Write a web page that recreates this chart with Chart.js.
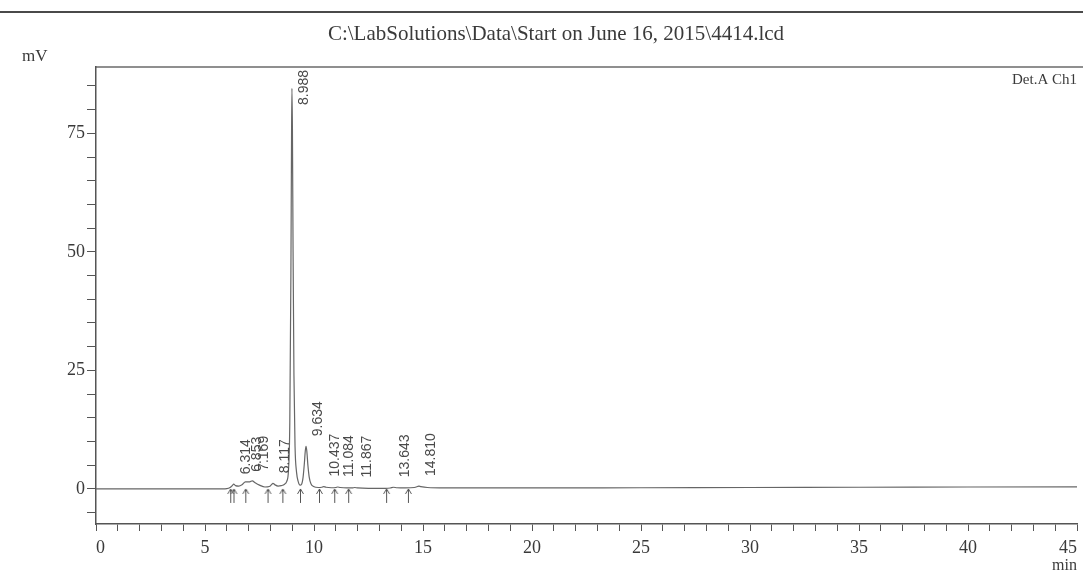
<!DOCTYPE html>
<html>
<head>
<meta charset="utf-8">
<script src="https://cdn.jsdelivr.net/npm/chart.js@4.4.1/dist/chart.umd.min.js"></script>
<style>
  html, body { margin: 0; padding: 0; background: #ffffff; }
  #wrap { position: relative; width: 1083px; height: 575px; }
</style>
</head>
<body>
<div id="wrap"><canvas id="c" width="1083" height="575"></canvas></div>
<script>
// ---- data ----
const chartTitle = 'C:\\LabSolutions\\Data\\Start on June 16, 2015\\4414.lcd';
const yUnit = 'mV';
const xUnit = 'min';
const detectorLabel = 'Det.A Ch1';

// trace: retention time (min) and signal (mV)
const times  = [0, 3, 5.8, 6.0, 6.15, 6.25, 6.314, 6.4, 6.55, 6.7, 6.853, 6.95, 7.05, 7.169, 7.3, 7.5, 7.75, 7.95, 8.05, 8.117, 8.2, 8.35, 8.5, 8.65, 8.75, 8.83, 8.89, 8.94, 8.97, 8.988, 9.01, 9.04, 9.08, 9.13, 9.2, 9.28, 9.36, 9.43, 9.5, 9.56, 9.6, 9.634, 9.67, 9.72, 9.78, 9.86, 9.98, 10.2, 10.35, 10.437, 10.55, 10.8, 11.0, 11.084, 11.2, 11.5, 11.75, 11.867, 12.0, 12.5, 13.3, 13.5, 13.643, 13.8, 14.2, 14.6, 14.75, 14.81, 14.9, 15.2, 16, 20, 25, 30, 35, 40, 45];
const signal = [0, 0, 0, 0.05, 0.3, 0.7, 1.0, 0.7, 0.6, 0.9, 1.5, 1.5, 1.5, 1.7, 1.3, 0.8, 0.4, 0.5, 0.9, 1.2, 0.9, 0.6, 0.7, 1.0, 1.6, 4.0, 14, 45, 74, 84.5, 76, 50, 24, 9, 3.5, 1.5, 0.8, 1.0, 2.5, 5.5, 8.0, 9.0, 8.0, 5.0, 2.5, 1.1, 0.5, 0.3, 0.35, 0.5, 0.35, 0.25, 0.3, 0.4, 0.3, 0.2, 0.2, 0.3, 0.2, 0.1, 0.1, 0.2, 0.35, 0.25, 0.2, 0.3, 0.5, 0.6, 0.5, 0.3, 0.2, 0.2, 0.25, 0.3, 0.35, 0.4, 0.45];

// detected peaks: retention time labels and their apex heights (mV)
const peakLabels  = ['6.314', '6.853', '7.169', '8.117', '8.988', '9.634', '10.437', '11.084', '11.867', '13.643', '14.810'];
const peakHeights = [1.0, 1.5, 1.7, 1.2, 84.5, 9.0, 0.5, 0.4, 0.3, 0.35, 0.6];

// integration markers along the baseline (min)
const markerTimes = [6.18, 6.33, 6.87, 7.89, 8.57, 9.38, 10.25, 10.95, 11.59, 13.33, 14.33];

// axis ticks
const xMajorTicks = [0, 5, 10, 15, 20, 25, 30, 35, 40, 45];
const yMajorTicks = [0, 25, 50, 75];

// ---- styles ----
const SERIF = "'Liberation Serif', 'DejaVu Serif', serif";
const SANS = "'Liberation Sans', Arial, sans-serif";
const TEXT = '#3a3a3a';
const AXIS = '#555555';

// arrow marker image (points up at the baseline)
function makeArrow() {
  const c = document.createElement('canvas');
  c.width = 9; c.height = 30;
  const g = c.getContext('2d');
  g.strokeStyle = '#555';
  g.lineWidth = 1;
  g.beginPath();
  g.moveTo(4.5, 15); g.lineTo(4.5, 29);
  g.moveTo(4.5, 15); g.lineTo(1.5, 20);
  g.moveTo(4.5, 15); g.lineTo(7.5, 20);
  g.stroke();
  return c;
}
const arrowImg = makeArrow();

const decorPlugin = {
  id: 'decor',
  beforeDraw(chart) {
    const ctx = chart.ctx;
    const a = chart.chartArea;
    ctx.save();
    ctx.fillStyle = '#ffffff';
    ctx.fillRect(0, 0, chart.width, chart.height);
    // page rule
    ctx.strokeStyle = '#4a4a4a';
    ctx.lineWidth = 2;
    ctx.beginPath(); ctx.moveTo(0, 12); ctx.lineTo(chart.width, 12); ctx.stroke();
    // plot top frame
    ctx.strokeStyle = '#6a6a6a';
    ctx.lineWidth = 1.5;
    ctx.beginPath(); ctx.moveTo(a.left, a.top); ctx.lineTo(chart.width, a.top); ctx.stroke();
    // texts
    ctx.fillStyle = TEXT;
    ctx.textBaseline = 'middle';
    ctx.font = '21px ' + SERIF;
    ctx.textAlign = 'center';
    ctx.fillText(chartTitle, 556, 34);
    ctx.font = '17px ' + SERIF;
    ctx.textAlign = 'left';
    ctx.fillText(yUnit, 22, 57);
    ctx.font = '15px ' + SERIF;
    ctx.textAlign = 'right';
    ctx.fillText(detectorLabel, a.right, 80);
    ctx.restore();
  },
  afterDatasetsDraw(chart) {
    const ctx = chart.ctx;
    const xs = chart.scales.x, ys = chart.scales.y;
    const a = chart.chartArea;
    ctx.save();
    ctx.font = '14px ' + SANS;
    ctx.fillStyle = '#4a4a4a';
    ctx.textBaseline = 'middle';
    ctx.textAlign = 'left';
    peakLabels.forEach((lab, i) => {
      const t = parseFloat(lab);
      const px = xs.getPixelForValue(t) + 12;
      const w = ctx.measureText(lab).width;
      let start = ys.getPixelForValue(peakHeights[i]) - 10;
      if (start - w < a.top + 3) start = a.top + 3 + w;
      ctx.save();
      ctx.translate(px, start);
      ctx.rotate(-Math.PI / 2);
      ctx.fillText(lab, 0, 0);
      ctx.restore();
    });
    ctx.restore();
  }
};

const chart = new Chart(document.getElementById('c'), {
  type: 'line',
  data: {
    datasets: [
      {
        label: 'Det.A Ch1',
        data: times.map((t, i) => ({ x: t, y: signal[i] })),
        borderColor: '#666666',
        borderWidth: 1.2,
        pointRadius: 0,
        cubicInterpolationMode: 'monotone',
        fill: false
      },
      {
        label: 'markers',
        type: 'scatter',
        data: markerTimes.map(t => ({ x: t, y: 0 })),
        pointStyle: arrowImg,
        pointRadius: 5,
        showLine: false
      }
    ]
  },
  options: {
    responsive: false,
    animation: false,
    events: [],
    layout: { padding: { top: 67, left: 0, right: 3, bottom: 0 } },
    plugins: { legend: { display: false }, tooltip: { enabled: false }, title: { display: false } },
    scales: {
      x: {
        type: 'linear',
        min: 0,
        max: 45,
        afterBuildTicks(scale) {
          const t = [];
          for (let v = 0; v <= 45; v += 1) t.push({ value: v });
          scale.ticks = t;
        },
        ticks: {
          autoSkip: false,
          maxRotation: 0,
          align: 'inner',
          padding: 6,
          color: TEXT,
          font: { family: SERIF, size: 18 },
          callback: v => (xMajorTicks.includes(v) ? String(v) : '')
        },
        grid: {
          drawOnChartArea: false,
          drawTicks: true,
          tickLength: 7,
          color: AXIS,
          tickWidth: 1
        },
        border: { color: AXIS, width: 1.5 },
        title: {
          display: true,
          text: xUnit,
          align: 'end',
          color: TEXT,
          font: { family: SERIF, size: 16 },
          padding: { top: 0, bottom: 0 }
        },
        afterFit(scale) {
          scale.paddingLeft = 0;
          scale.paddingRight = 0;
          scale.height = 51;
        }
      },
      y: {
        type: 'linear',
        min: -7.4,
        max: 89,
        afterBuildTicks(scale) {
          const t = [];
          for (let v = -5; v <= 85; v += 5) t.push({ value: v });
          scale.ticks = t;
        },
        ticks: {
          autoSkip: false,
          padding: 2,
          color: TEXT,
          font: { family: SERIF, size: 18 },
          callback: v => (yMajorTicks.includes(v) ? String(v) : '')
        },
        grid: {
          drawOnChartArea: false,
          drawTicks: true,
          tickLength: 9,
          color: AXIS
        },
        border: { color: AXIS, width: 1.5 },
        afterFit(scale) {
          scale.width = 96;
          scale.paddingTop = 0;
          scale.paddingBottom = 0;
        }
      }
    }
  },
  plugins: [decorPlugin]
});
</script>
</body>
</html>
